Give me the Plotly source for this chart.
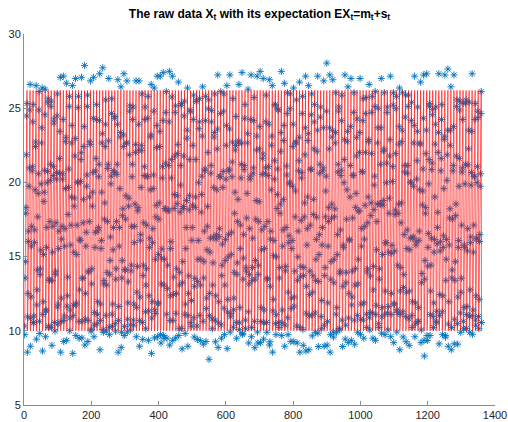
import numpy as np
import plotly.graph_objects as go

# Constant trend level m_t and one period (9 steps) of the seasonal component s_t
trend_level = 18.1
season = [-8.1, -7.8, -5.5, -3.2, -0.9, 1.4, 3.6, 5.9, 8.1]

# Deviations of the observations X_t from EX_t (t = 1 .. 1360), in steps of 0.08
resid_step = 0.08
resid_steps = [
    4, -7, 12, -3, 9, -15, 2, 6, -11, -18, 8, -1, 14, -6, 3, -9, 11, 5, -13, 7,
    -4, 10, -2, 16, -8, 1, -12, 7, 3, -20, 13, -5, 0, 9, -16, 4, -7, 18, 2, -10,
    6, -3, -14, 11, -1, 8, -6, 15, -9, -22, 5, 12, -4, 2, -17, 10, -8, 3, 19, -2,
    -11, 7, 1, -5, 13, -15, 9, -3, 6, -12, 17, -7, 4, -1, 11, -19, 2, 8, -6, 14,
    -9, 3, -16, 10, 5, -2, 12, -8, 0, -24, 7, -4, 15, -11, 1, 9, -13, 6, -3, 20,
    2, -10, 8, -6, 14, -1, -7, 11, -18, 4, -5, 16, -2, 9, -14, 3, 12, -9, 5, -20,
    10, -4, 1, 13, -12, 6, -8, 17, -3, -16, 8, 2, -10, 14, -5, 0, 7, -15, 11, -1,
    -6, 12, -2, 4, -19, 9, -11, 5, 15, -7, 1, -13, 10, -4, 18, -9, 3, -1, 6, -21,
    13, -5, 8, -10, 2, 16, -14, 7, -2, -25, 11, -6, 4, 12, -17, 1, -8, 9, -3, 21,
    -12, 6, -1, 10, -7, 3, -15, 14, -4, -9, 5, 17, -11, 2, -6, 13, -18, 8, 0, -3,
    7, -9, 15, -2, -13, 4, 11, -5, 1, -17, 9, -7, 16, -1, 3, -12, 6, 10, -8, 23,
    -3, 11, -6, 2, 14, -16, 5, -10, 8, -14, -2, 12, -9, 19, 1, -5, 7, -19, 4, -11,
    9, -1, -8, 13, -4, 6, -12, 2, 18, -6, -15, 10, 3, -7, 15, -2, -11, 5, -16, 8,
    -7, 14, 0, -10, 7, -3, 16, -13, 4, -22, 6, -4, 11, -9, 2, 13, -6, -1, 9, -18,
    5, -12, 10, -3, 1, 17, -8, 3, -14, -5, 12, -2, 7, -16, 9, -10, 14, -4, 0, 19,
    -10, 4, -5, 12, -17, 8, -1, 6, -9, -20, 15, -7, 2, 10, -13, 5, -3, 18, -6, -2,
    11, -6, 3, -14, 9, 1, -10, 13, -2, -12, 4, -18, 8, -5, 16, 0, -7, 11, -15, 6,
    -1, 8, -13, 5, -4, 15, -9, 2, 10, -23, -3, 7, -11, 14, -6, 1, 12, -8, 3, -14,
    16, -2, 6, -9, -1, 11, -16, 4, -5, -8, 13, -3, 9, -12, 0, 17, -10, 5, -19, 7,
    -8, 13, -4, 1, -15, 10, 2, -6, 14, -18, -1, 6, -13, 8, -2, 12, -5, 19, -9, 3,
    4, -11, 9, -7, 12, -3, -14, 7, 0, -21, 10, -8, 2, 15, -4, -10, 6, -1, 13, -16,
    -5, 9, -1, 14, -10, 3, -6, 11, -17, -7, 1, 16, -12, 5, -3, 8, -15, 10, -2, 22,
    12, -8, 5, -2, -16, 13, -4, 1, 9, -13, -6, 11, -1, -9, 17, -5, 3, -18, 7, -4,
    -2, 6, -12, 10, 4, -7, 15, -11, 2, -19, 8, -3, 13, -14, 1, 6, -9, 14, -6, -10,
    8, -3, -9, 16, -6, 2, -13, 9, -1, -15, 12, -5, -2, 11, -18, 7, 0, -7, 15, -3,
    -13, 10, 3, -4, 11, -9, 5, -17, 14, -6, -2, 18, -8, 4, -11, 9, -1, -14, 6, 24,
    1, -7, 13, -12, 6, -1, 10, -4, -16, -11, 3, 8, -15, 12, -3, -6, 16, -10, 2, -5,
    -9, 15, -5, 7, -2, -14, 4, 12, -8, -24, 9, -1, 5, -12, 14, -7, 1, -17, 10, -2,
    6, -4, -11, 2, 17, -8, -3, 9, -13, -3, 16, -9, 0, 7, -5, 13, -14, 3, -8, 18,
    -4, 11, -16, 8, -1, 5, -10, 14, -6, -17, 2, -12, 10, -3, 19, -7, 6, -2, -13, 9,
    10, -2, 4, -15, 12, -6, 1, -9, 16, -10, -5, 13, -1, 8, -18, 3, -7, 11, -4, -16,
    -7, 3, 14, -5, -12, 9, -2, 6, -19, -22, 7, -10, 15, -4, 2, -8, 12, -15, 5, 1,
    3, -13, 8, -1, 10, -6, -17, 15, -3, -6, 11, 0, -9, 17, -7, 4, -12, 9, -2, 21,
    -11, 5, -3, 12, -9, 1, 16, -14, 7, -14, -4, 9, -16, 3, 13, -5, -1, 10, -8, -12,
    14, -9, 2, -6, 8, -18, 11, -2, 4, -9, 6, -11, 12, -1, -14, 15, -6, 2, -10, 7,
    -3, 16, -10, 4, -13, 7, -5, 13, -1, -26, 10, -7, 3, -15, 8, -2, 14, -9, 1, -4,
    7, -5, 11, -17, 2, 12, -8, -1, 9, -12, -13, 5, 16, -6, 0, 10, -11, 4, -18, 13,
    -6, 2, -14, 9, -3, 15, -12, 6, -7, -19, 1, 13, -4, -10, 11, -16, 7, -1, 12, -8,
    9, -12, 5, -8, 16, -4, 3, -15, 10, -5, -8, 14, -2, 6, -13, 1, 18, -7, -3, 20,
    -15, 8, -2, 11, -7, 0, 13, -10, 5, -21, 12, -3, -9, 15, -5, 8, -14, 3, 9, -1,
    2, -9, 17, -4, -11, 6, -1, 12, -16, -8, 4, -14, 10, 1, -6, 16, -3, -12, 7, -18,
    -1, 13, -7, 3, 10, -13, 8, -5, 1, -16, 14, -8, 6, -11, 2, -4, 12, -17, 11, 5,
    11, -4, -6, 14, -9, 4, -16, 9, -2, -11, -1, 17, -10, 7, -3, 13, -8, 0, -15, 8,
    -8, 7, 1, -12, 15, -5, 10, -1, -13, -23, 5, -6, 12, -2, -17, 9, 3, -9, 14, -6,
    5, -14, 12, -2, -7, 11, -3, 16, -9, -4, 8, -13, 1, 14, -8, 6, -1, -16, 10, 23,
    -12, 4, -9, 10, 2, -15, 7, -4, 13, -18, -7, 11, -3, 5, -12, 17, -6, 9, -1, -9,
    8, -1, 6, -16, 12, -8, -2, 14, -5, -13, 3, -9, 15, -6, 10, -14, 2, -3, 16, -11,
    -5, 12, -11, 2, -4, 9, -17, 5, 11, -20, 6, -2, -14, 13, -7, 1, 8, -12, 4, 0,
    13, -7, 3, -10, 7, -1, 15, -13, -6, -7, -3, 10, -8, 18, -4, -11, 5, 12, -15, 9,
    -2, 9, -15, 6, -9, 14, -3, 1, -12, -24, 13, -5, 7, -1, 11, -18, 4, -8, 10, -3,
    6, -10, 10, -4, 15, -12, 2, -7, 9, -10, -9, 16, -2, -13, 4, 8, -6, 14, -1, 17,
    -9, 1, -6, 13, -14, 5, 11, -3, -17, -15, 7, -11, 3, 9, -5, 15, -10, 2, -7, 12,
    4, -16, 14, -1, -8, 10, -11, 7, 2, -12, 12, -4, -15, 6, -1, 11, -9, 17, -12, -6,
    -4, 10, -2, 8, -13, 3, 16, -9, 5, -22, -2, 14, -7, 1, 13, -16, 6, -5, 9, -14,
    15, -3, -12, 5, 9, -7, 1, -14, 12, -5, 10, -1, 4, -18, 7, -8, 15, -2, -10, 19,
    -10, 6, 8, -17, 3, 12, -5, -1, 14, -17, -6, 9, -12, 11, -3, 2, -16, 10, 1, -8,
    1, -11, 13, -6, -2, 16, -9, 4, -14, -9, 15, -7, 5, -4, 12, -13, 0, 8, -5, 14,
    -7, 14, -4, 10, -16, 1, 7, -12, 6, -21, 2, -10, 13, -1, -8, 17, -11, 3, 12, -2,
    12, -5, 2, -9, 11, -15, 9, -3, -7, -14, 8, 4, -13, 15, -6, 0, 11, -17, 7, -10,
    -3, 8, -13, 16, -1, -10, 4, 13, -8, -25, 11, -2, 9, -15, 3, -6, 14, -4, -12, 22,
    9, -8, 5, -2, 14, -11, -4, 10, 1, -6, -12, 17, -5, 7, -16, 12, -1, -9, 5, -13,
    -6, 11, -1, -14, 8, 3, -16, 12, -3, -19, 4, -8, 14, -11, 9, -2, 6, -15, 16, -1,
    3, -12, 16, -7, -3, 9, -10, 1, 15, -11, 13, -4, -9, 10, -1, -13, 8, 2, -6, 18,
    -13, 2, -8, 11, 5, -16, 10, -6, 3, -16, -1, 12, -10, 4, 16, -7, -3, 13, -11, 6,
    10, -3, 7, -12, 1, 14, -8, 6, -15, -4, 9, -14, 3, -1, 11, -9, 15, -5, 0, -17,
    -1, 15, -9, 3, -11, 8, -2, -13, 11, -20, 5, -6, 17, -8, 2, 10, -12, 6, -4, 21,
    7, -6, -10, 12, -5, 2, 13, -11, 4, -13, -7, 14, -3, 9, -15, 5, -1, 11, -16, 3,
    -11, 9, 1, -3, 16, -12, 6, -8, 10, -23, 12, -2, -6, 14, -9, 3, -14, 8, -1, 7,
]

x_ticks = [0, 200, 400, 600, 800, 1000, 1200, 1400]
y_ticks = [5, 10, 15, 20, 25, 30]

t = np.arange(1, len(resid_steps) + 1)
expectation = trend_level + np.array(season)[(t - 1) % len(season)]
observed = expectation + np.array(resid_steps) * resid_step

fig = go.Figure()
# Observations as asterisks, expectation drawn over them as a thin red line
fig.add_trace(go.Scatter(
    x=t, y=observed, mode="markers",
    marker=dict(symbol="asterisk-open", size=6, color="#0072BD",
                line=dict(color="#0072BD", width=0.9)),
    hoverinfo="skip",
))
fig.add_trace(go.Scatter(
    x=t, y=expectation, mode="lines",
    line=dict(color="red", width=0.6),
    hoverinfo="skip",
))

axis_common = dict(
    showgrid=False, zeroline=False, showline=True, linecolor="#8c8c8c",
    linewidth=1, ticks="inside", ticklen=4, tickcolor="#8c8c8c",
    tickfont=dict(family="Liberation Sans, Arial, sans-serif", size=11,
                  color="#262626"),
    automargin=False, mirror=False,
)
fig.update_xaxes(range=[0, 1400], tickvals=x_ticks, **axis_common)
fig.update_yaxes(range=[5, 30], tickvals=y_ticks, **axis_common)

fig.update_layout(
    width=508, height=422,
    margin=dict(l=24, r=13, t=34, b=17),
    paper_bgcolor="white", plot_bgcolor="white",
    showlegend=False,
    title=dict(
        text="<b>The raw data X<sub>t</sub> with its expectation "
             "EX<sub>t</sub>=m<sub>t</sub>+s<sub>t</sub></b>",
        x=0.5, xref="paper", xanchor="center",
        y=0.968, yref="container", yanchor="middle",
        font=dict(family="Liberation Sans, Arial, sans-serif", size=12,
                  color="black"),
    ),
)

fig.write_html("out.html")
